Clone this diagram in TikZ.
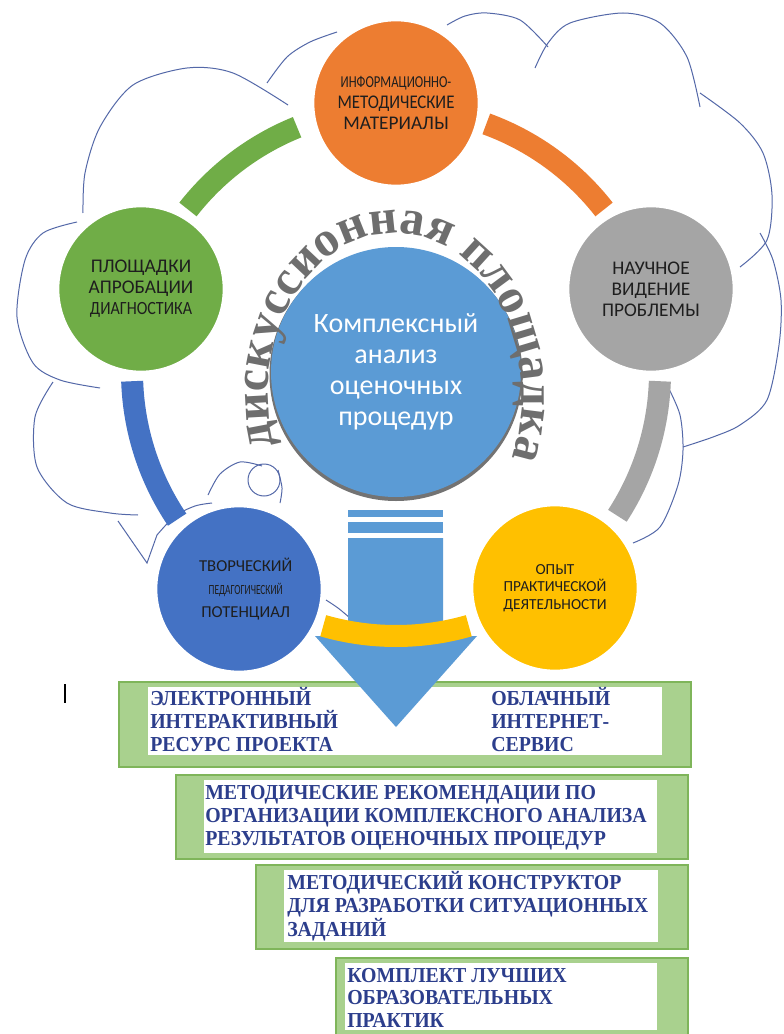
\documentclass[tikz,border=0pt]{standalone}
\usepackage{fontspec}
\usepackage{graphicx}
\setmainfont{Carlito}
\newfontfamily\waf{Liberation Serif}
\newfontfamily\boxf{Liberation Serif}[FakeStretch=0.93]
\usetikzlibrary{decorations.text}
\definecolor{cOrange}{HTML}{ED7D31}
\definecolor{cGreen}{HTML}{70AD47}
\definecolor{cGray}{HTML}{A5A5A5}
\definecolor{cBlue}{HTML}{4472C4}
\definecolor{cYellow}{HTML}{FFC000}
\definecolor{cLight}{HTML}{5B9BD5}
\definecolor{cCloud}{HTML}{5468A8}
\definecolor{cFrame}{HTML}{A9D18E}
\definecolor{cFrameLine}{HTML}{7FB55A}
\definecolor{cNavy}{HTML}{2C3E8C}
\definecolor{cWA}{HTML}{6E6E6E}
\definecolor{cInk}{HTML}{1E1E1E}
\tikzset{
  bubble/.style={circle, draw=white, line width=2pt, inner sep=0pt, minimum size=124.5pt, align=center, text=cInk, font=\fontsize{14.5}{15.75}\selectfont},
  band/.style={line width=16.5pt},
  cloudline/.style={draw=cCloud, line width=0.75pt},
  gframe/.style={fill=cFrame, draw=cFrameLine, line width=0.8pt},
  inset/.style={fill=white},
  boxtext/.style={anchor=base west, align=left, inner sep=0pt, text=cNavy, font=\boxf\bfseries\fontsize{16}{17}\selectfont},
}
\begin{document}
\begin{tikzpicture}[x=0.75pt,y=0.75pt]
\useasboundingbox (0,0) rectangle (783,-1034);
\fill[white] (0,0) rectangle (783,-1034);
\coordinate (C) at (396,-372);

% cloud outline
\draw[cloudline] plot[smooth] coordinates {(83,-213) (85,-173) (100,-127) (133,-85) (187,-68) (233,-73) (288,-105)};
\draw[cloudline] plot[smooth] coordinates {(267,-83) (287,-57) (310,-42) (337,-32)};
\draw[cloudline] plot[smooth] coordinates {(447,-25) (465,-16) (487,-13) (520,-20) (548,-47)};
\draw[cloudline] plot[smooth] coordinates {(535,-68) (548,-43) (570,-23) (623,-13) (660,-23) (687,-57) (700,-107)};
\draw[cloudline] plot[smooth] coordinates {(700,-93) (740,-123) (763,-153) (772,-195) (767,-240) (740,-267)};
\draw[cloudline] plot[smooth] coordinates {(760,-233) (773,-260) (781,-300) (779,-345) (767,-400) (740,-425) (713,-437) (683,-447)};
\draw[cloudline] plot[smooth] coordinates {(668,-387) (680,-415) (683,-450) (678,-485) (660,-527) (633,-543)};
\draw[cloudline] plot[smooth] coordinates {(77,-222) (43,-233) (25,-260) (17,-317) (33,-363) (60,-380) (100,-388)};
\draw[cloudline] plot[smooth] coordinates {(53,-382) (35,-417) (37,-467) (67,-503) (110,-513) (138,-515)};
\draw[cloudline] (118,-521) -- (147,-563) -- (157,-535);
\draw[cloudline] plot[smooth] coordinates {(157,-535) (175,-516) (195,-506) (212,-503)};
\draw[cloudline] plot[smooth] coordinates {(208,-495) (220,-474) (240,-462) (262,-466)};
\draw[cloudline] (264,-480) circle[radius=16];
\draw[cloudline] plot[smooth] coordinates {(278,-470) (282,-488) (280,-503)};
\draw[cloudline] plot[smooth] coordinates {(326,-600) (338,-608) (350,-618)};

% connecting bands
\draw[band, cGreen] (C) ++(112:264) arc[start angle=112, end angle=142, radius=264];
\draw[band, cOrange] (C) ++(38:264) arc[start angle=38, end angle=70, radius=264];
\draw[band, cGray] (C) ++(-33:264) arc[start angle=-33, end angle=-2, radius=264];
\draw[band, cBlue] (C) ++(182:264) arc[start angle=182, end angle=214, radius=264];

% outer circles
\node[bubble, fill=cOrange, font=\fontsize{14.5}{15.4}\selectfont] (info) at (396,-103)
  {\scalebox{0.76}[1]{\fontsize{12.5}{14}\selectfont ИНФОРМАЦИОННО-}\\\scalebox{0.87}[1]{МЕТОДИЧЕСКИЕ}\\МАТЕРИАЛЫ};
\node[bubble, fill=cGreen] (plosh) at (141,-289)
  {ПЛОЩАДКИ\\АПРОБАЦИИ\\\scalebox{0.86}[1]{\fontsize{14}{16}\selectfont ДИАГНОСТИКА}};
\node[bubble, fill=cGray] (nauch) at (651,-289) {НАУЧНОЕ\\ВИДЕНИЕ\\ПРОБЛЕМЫ};
\node[bubble, fill=cBlue, font=\fontsize{12.5}{17}\selectfont] (tvor) at (239,-589)
  {\hspace*{10pt}ТВОРЧЕСКИЙ\\\hspace*{10pt}\scalebox{0.675}[1]{\fontsize{10.5}{12}\selectfont ПЕДАГОГИЧЕСКИЙ}\\\hspace*{10pt}ПОТЕНЦИАЛ};
\node[bubble, fill=cYellow, font=\fontsize{11.5}{13}\selectfont] (opyt) at (555,-588)
  {ОПЫТ\\ПРАКТИЧЕСКОЙ\\ДЕЯТЕЛЬНОСТИ};

% centre circle
\fill[black!55] (396,-374.5) circle[radius=126.5];
\node[circle, fill=cLight, inner sep=0pt, minimum size=187.5pt, align=center, text=white, font=\fontsize{21}{23.25}\selectfont] (kompl) at (396,-372)
  {Комплексный\\анализ\\оценочных\\процедур};

% curved title
\path[decorate, decoration={text along path, text align=fit to path,
  text={|\waf\bfseries\fontsize{37}{37}\selectfont\color{cWA}|дискуссионная площадка}}]
  (395,-395) ++(198:127 and 162) arc[start angle=198, end angle=-19, x radius=127, y radius=162];

% result boxes
\draw[gframe] (119,-682) rectangle (691,-767);
\fill[inset] (148,-687) rectangle (662,-755);
\node[boxtext] (eir) at (150,-751) {ЭЛЕКТРОННЫЙ\\ИНТЕРАКТИВНЫЙ\\РЕСУРС ПРОЕКТА};
\node[boxtext] (obl) at (491,-751) {ОБЛАЧНЫЙ\\ИНТЕРНЕТ-\\СЕРВИС};

\draw[gframe] (176,-775) rectangle (688,-859);
\fill[inset] (204,-780) rectangle (657,-853);
\node[boxtext] (metrek) at (205,-845) {МЕТОДИЧЕСКИЕ РЕКОМЕНДАЦИИ ПО\\ОРГАНИЗАЦИИ КОМПЛЕКСНОГО АНАЛИЗА\\РЕЗУЛЬТАТОВ ОЦЕНОЧНЫХ ПРОЦЕДУР};

\draw[gframe] (256,-865) rectangle (688,-949);
\fill[inset] (284,-870) rectangle (658,-942);
\node[boxtext] (konstr) at (287,-936.5) {МЕТОДИЧЕСКИЙ КОНСТРУКТОР\\ДЛЯ РАЗРАБОТКИ СИТУАЦИОННЫХ\\ЗАДАНИЙ};

\draw[gframe] (336,-958) rectangle (688,-1045);
\fill[inset] (345,-963) rectangle (657,-1030);
\node[boxtext] (komplekt) at (347,-1027.5) {КОМПЛЕКТ ЛУЧШИХ\\ОБРАЗОВАТЕЛЬНЫХ\\ПРАКТИК};

% text cursor mark
\draw[line width=1.2pt, black] (65,-684) -- (65,-703);

% big arrow
\fill[cLight] (348,-510) rectangle (443,-517);
\fill[cLight] (348,-522) rectangle (443,-533);
\fill[cLight] (348,-538) -- (443,-538) -- (443,-636) -- (477,-636) -- (396,-727) -- (315,-636) -- (348,-636) -- cycle;
\draw[band, cYellow] (C) ++(254:264) arc[start angle=254, end angle=286, radius=264];
\end{tikzpicture}
\end{document}
